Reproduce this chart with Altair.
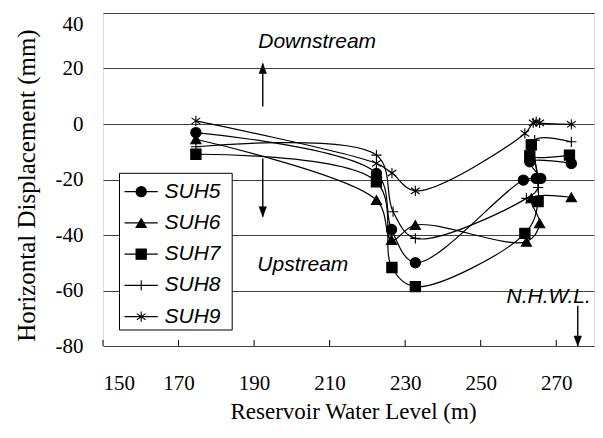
import altair as alt
import pandas as pd

series_names = ["SUH5", "SUH6", "SUH7", "SUH8", "SUH9"]

suh5_level = [174.6, 222.4, 226.4, 232.7, 261.3, 264.7, 265.9, 263.0, 274.0]
suh5_disp = [-3.1, -17.8, -38.0, -50.0, -20.2, -19.6, -19.6, -13.6, -14.2]
suh6_level = [174.6, 222.4, 226.4, 232.7, 262.1, 265.6, 263.4, 274.0]
suh6_disp = [-5.5, -27.4, -41.8, -36.4, -42.4, -35.8, -26.8, -26.4]
suh7_level = [174.6, 222.4, 226.5, 232.7, 261.7, 265.2, 263.4, 263.0, 273.5]
suh7_disp = [-10.9, -20.8, -51.7, -58.6, -39.4, -28.0, -7.5, -11.5, -11.2]
suh8_level = [174.6, 222.4, 226.8, 232.7, 262.1, 265.2, 264.3, 274.0]
suh8_disp = [-8.2, -11.2, -31.6, -41.2, -26.8, -22.9, -5.8, -6.4]
suh9_level = [174.6, 222.4, 226.5, 232.7, 261.7, 263.9, 264.7, 265.6, 274.0]
suh9_disp = [1.1, -14.2, -17.7, -24.1, -3.4, 0.4, 0.8, 0.4, -0.1]

x_ticks = [150, 170, 190, 210, 230, 250, 270]
y_ticks = [-80, -60, -40, -20, 0, 20, 40]

note_text = ["Downstream", "Upstream", "N.H.W.L."]
note_x = [206.7, 202.9, 268.0]
note_y = [29.4, -50.8, -62.5]

arrow_x = [192.3, 192.3, 275.7]
arrow_from = [6.3, -12.4, -65.5]
arrow_to = [21.8, -33.4, -80.0]
arrow_dir = ["up", "down", "down"]

shape_paths = [
    "circle",
    "triangle-up",
    "square",
    "M-1,0H1M0,-1V1",
    "M0,-1V1M-0.85,-0.6L0.85,0.6M-0.85,0.6L0.85,-0.6",
]

rows = []
for name, lv, dp in [("SUH5", suh5_level, suh5_disp), ("SUH6", suh6_level, suh6_disp),
                     ("SUH7", suh7_level, suh7_disp), ("SUH8", suh8_level, suh8_disp),
                     ("SUH9", suh9_level, suh9_disp)]:
    for i, (a, b) in enumerate(zip(lv, dp)):
        rows.append({"series": name, "idx": i, "level": a, "disp": b})
df = pd.DataFrame(rows)

serif = "Liberation Serif"
sans = "Liberation Sans"

X = alt.X("level:Q", scale=alt.Scale(domain=[150, 280], nice=False, zero=False),
          axis=alt.Axis(values=x_ticks, grid=False, ticks=False, domain=False,
                        labelFont=serif, labelFontSize=21, labelColor="black",
                        labelPadding=43, labelBaseline="alphabetic",
                        labelExpr="'' + datum.value",
                        title="Reservoir Water Level (m)", titleFont=serif, titleFontSize=23,
                        titleFontWeight="normal", titleColor="black",
                        titleBaseline="alphabetic", titleY=72, titleX=250))
Y = alt.Y("disp:Q", scale=alt.Scale(domain=[-80, 40], nice=False, zero=False),
          axis=alt.Axis(values=y_ticks, grid=True, gridColor="#404040", gridWidth=1,
                        ticks=False, domain=False,
                        labelFont=serif, labelFontSize=21, labelColor="black",
                        labelPadding=20, labelExpr="'' + datum.value",
                        labelBaseline=alt.expr("datum.value == 40 ? 'top' : 'middle'"),
                        title="Horizontal Displacement (mm)", titleFont=serif, titleFontSize=25,
                        titleFontWeight="normal", titleColor="black",
                        titleX=-64, titleY=172))

shape_enc = alt.Shape("series:N", scale=alt.Scale(domain=series_names, range=shape_paths), legend=None)

lines = alt.Chart(df).mark_line(interpolate="catmull-rom", color="black", strokeWidth=1.2).encode(
    x=X, y=Y, detail="series:N", order="idx:Q")
points = alt.Chart(df).mark_point(filled=True, fill="black", stroke="black", strokeWidth=1.1,
                                  opacity=1, size=105).encode(x=X, y=Y, shape=shape_enc)

tick_df = pd.DataFrame({"level": x_ticks, "disp": [-80] * len(x_ticks), "disp2": [-77.8] * len(x_ticks)})
ticks = alt.Chart(tick_df).mark_rule(color="black", strokeWidth=1).encode(
    x=X, y=Y, y2="disp2:Q")

arr_df = pd.DataFrame({"level": arrow_x, "disp": arrow_from, "disp2": arrow_to, "dir": arrow_dir})
arr_lines = alt.Chart(arr_df).mark_rule(color="black", strokeWidth=1.4).encode(x=X, y=Y, y2="disp2:Q")
head_df = pd.DataFrame({"level": arrow_x, "disp": arrow_to, "dir": arrow_dir})
head_up = alt.Chart(head_df).transform_filter(alt.datum.dir == "up").mark_point(
    shape="M0,0L0.75,2L-0.75,2Z", filled=True, fill="black", stroke="black", strokeWidth=0.5,
    opacity=1, size=100).encode(x=X, y=Y)
head_down = alt.Chart(head_df).transform_filter(alt.datum.dir == "down").mark_point(
    shape="M0,0L0.75,-2L-0.75,-2Z", filled=True, fill="black", stroke="black", strokeWidth=0.5,
    opacity=1, size=100).encode(x=X, y=Y)

note_df = pd.DataFrame({"level": note_x, "disp": note_y, "label": note_text})
notes = alt.Chart(note_df).mark_text(font=sans, fontSize=21, fontStyle="italic", color="black",
                                     baseline="middle", align="center").encode(x=X, y=Y, text="label:N")

main = alt.layer(ticks, lines, points, arr_lines, head_up, head_down, notes)

leg_df = pd.DataFrame({"series": series_names})
leg_y = alt.Y("series:N", axis=None,
              scale=alt.Scale(type="point", domain=series_names, range=[178.7, 303.7], padding=0))
box = alt.Chart(pd.DataFrame({"a": [0]})).mark_rect(fill="white", stroke="black", strokeWidth=1).encode(
    x=alt.value(16.5), x2=alt.value(129.2), y=alt.value(160.3), y2=alt.value(317))
leg_lines = alt.Chart(leg_df).mark_rule(color="black", strokeWidth=1.2).encode(
    x=alt.value(21.5), x2=alt.value(54.8), y=leg_y)
leg_pts = alt.Chart(leg_df).mark_point(filled=True, fill="black", stroke="black", strokeWidth=1.1,
                                       opacity=1, size=105).encode(x=alt.value(38.2), y=leg_y, shape=shape_enc)
leg_txt = alt.Chart(leg_df).mark_text(font=sans, fontSize=21, fontStyle="italic", color="black",
                                      align="left", baseline="middle").encode(
    x=alt.value(61.5), y=leg_y, text="series:N")
legend = alt.layer(box, leg_lines, leg_pts, leg_txt)

chart = alt.layer(main, legend).resolve_scale(y="independent").properties(
    width=491, height=333,
    autosize=alt.AutoSizeParams(type="none"),
    padding={"left": 95, "top": 5, "right": 1, "bottom": 80},
).configure_view(stroke="black", strokeWidth=1).configure(background="white")

chart.save("out.html", embed_options={"renderer": "svg", "actions": False})
